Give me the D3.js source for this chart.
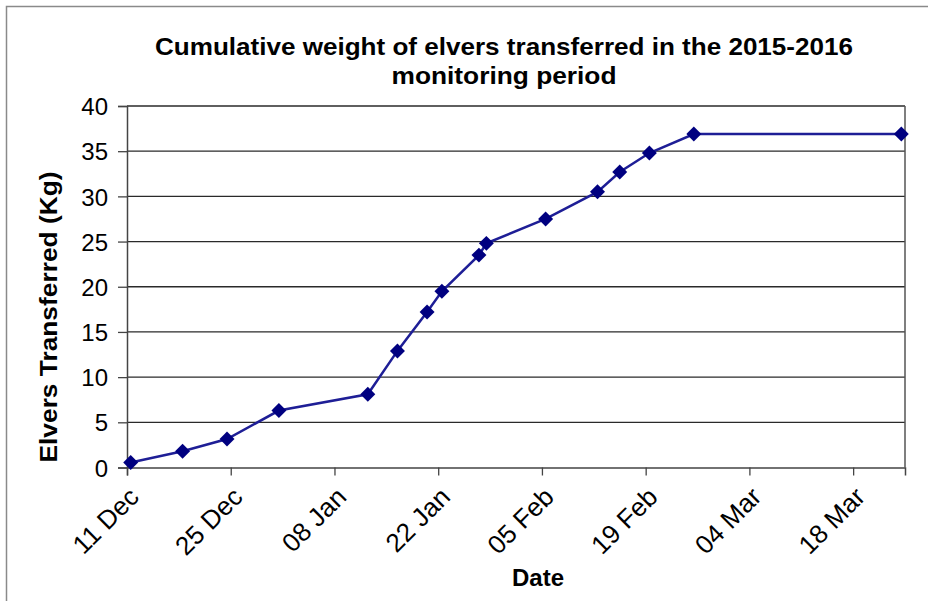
<!DOCTYPE html>
<html>
<head>
<meta charset="utf-8">
<script src="https://cdn.jsdelivr.net/npm/d3@7"></script>
<style>
  body { margin: 0; background: #fff; }
  text { font-family: "Liberation Sans", Arial, sans-serif; fill: #000; }
</style>
</head>
<body>
<svg id="chart" width="928" height="601"></svg>
<script>
const width = 928;
const height = 601;

// Data
const dates = ["2015-12-11", "2015-12-18", "2015-12-24", "2015-12-31", "2016-01-12", "2016-01-16",
  "2016-01-20", "2016-01-22", "2016-01-27", "2016-01-28", "2016-02-05", "2016-02-12",
  "2016-02-15", "2016-02-19", "2016-02-25", "2016-03-24"];
const weights = [0.55, 1.8, 3.15, 6.3, 8.1, 12.9, 17.2, 19.5, 23.5, 24.8, 27.5, 30.5, 32.7, 34.8, 36.9, 36.9];
const yTicks = [0, 5, 10, 15, 20, 25, 30, 35, 40];
const xTickDates = ["2015-12-11", "2015-12-25", "2016-01-08", "2016-01-22", "2016-02-05",
  "2016-02-19", "2016-03-04", "2016-03-18"];
const titleLines = ["Cumulative weight  of elvers transferred in the 2015-2016", "monitoring period"];

const parse = d3.utcParse("%Y-%m-%d");
const data = dates.map((d, i) => ({date: parse(d), value: weights[i]}));

const margin = {top: 106, right: 22, bottom: 133.5, left: 127};

const svg = d3.select("#chart");

svg.append("rect")
  .attr("width", width)
  .attr("height", height)
  .attr("fill", "#fff");

// outer frame of the picture
svg.append("path")
  .attr("d", `M6.5,${height} V6.5 H${width}`)
  .attr("fill", "none")
  .attr("stroke", "#8a8a8a")
  .attr("stroke-width", 1.5);

const x = d3.scaleUtc()
  .domain([parse("2015-12-11"), parse("2016-03-25")])
  .range([margin.left, width - margin.right - 1]);

const y = d3.scaleLinear()
  .domain([0, 40])
  .range([height - margin.bottom, margin.top]);

// gridlines
svg.append("g")
  .selectAll("line")
  .data(yTicks.filter(t => t > 0))
  .join("line")
  .attr("x1", margin.left)
  .attr("x2", x.range()[1])
  .attr("y1", d => y(d))
  .attr("y2", d => y(d))
  .attr("stroke", "#2a2a2a")
  .attr("stroke-width", 1.3);

// right edge of plot
svg.append("line")
  .attr("x1", x.range()[1])
  .attr("x2", x.range()[1])
  .attr("y1", y(40))
  .attr("y2", y(0))
  .attr("stroke", "#555")
  .attr("stroke-width", 1.5);

// y axis
const yAxis = d3.axisLeft(y)
  .tickValues(yTicks)
  .tickSize(9)
  .tickPadding(10);

const gy = svg.append("g")
  .attr("transform", `translate(${margin.left},0)`)
  .call(yAxis);
gy.select(".domain").attr("stroke", "#444").attr("stroke-width", 1.5);
gy.selectAll(".tick line").attr("stroke", "#444").attr("stroke-width", 1.3);
gy.selectAll(".tick text")
  .style("font-size", "24px")
  .attr("dy", "0.36em");

// x axis
const xAxis = d3.axisBottom(x)
  .tickValues(xTickDates.map(parse))
  .tickSize(8)
  .tickFormat(d3.utcFormat("%d %b"));

const gx = svg.append("g")
  .attr("transform", `translate(0,${y(0)})`)
  .call(xAxis);
gx.select(".domain").attr("stroke", "#444").attr("stroke-width", 1.5);
gx.selectAll(".tick line").attr("stroke", "#444").attr("stroke-width", 1.3);
gx.selectAll(".tick text")
  .style("font-size", "26px")
  .attr("text-anchor", "end")
  .attr("x", 0)
  .attr("y", 0)
  .attr("dy", 0)
  .attr("transform", "translate(13,31) rotate(-45)");

// series line
const line = d3.line()
  .x(d => x(d3.utcHour.offset(d.date, 12)))
  .y(d => y(d.value));

svg.append("path")
  .datum(data)
  .attr("d", line)
  .attr("fill", "none")
  .attr("stroke", "#1e1e96")
  .attr("stroke-width", 2.5);

// diamond markers
svg.append("g")
  .selectAll("path")
  .data(data)
  .join("path")
  .attr("transform", d => `translate(${x(d3.utcHour.offset(d.date, 12))},${y(d.value)}) rotate(45)`)
  .attr("d", d3.symbol(d3.symbolSquare, 112))
  .attr("fill", "#000080");

// title
svg.append("g")
  .selectAll("text")
  .data(titleLines)
  .join("text")
  .attr("x", 504)
  .attr("y", (d, i) => 55 + i * 29)
  .attr("text-anchor", "middle")
  .attr("textLength", (d, i) => i === 0 ? 698 : 225)
  .attr("lengthAdjust", "spacingAndGlyphs")
  .style("font-size", "24px")
  .style("font-weight", "bold")
  .text(d => d);

// axis titles
svg.append("text")
  .attr("transform", `translate(57,317) rotate(-90)`)
  .attr("text-anchor", "middle")
  .attr("textLength", 291)
  .attr("lengthAdjust", "spacingAndGlyphs")
  .style("font-size", "23px")
  .style("font-weight", "bold")
  .text("Elvers Transferred (Kg)");

svg.append("text")
  .attr("x", 538)
  .attr("y", 586)
  .attr("text-anchor", "middle")
  .style("font-size", "24px")
  .style("font-weight", "bold")
  .text("Date");
</script>
</body>
</html>
